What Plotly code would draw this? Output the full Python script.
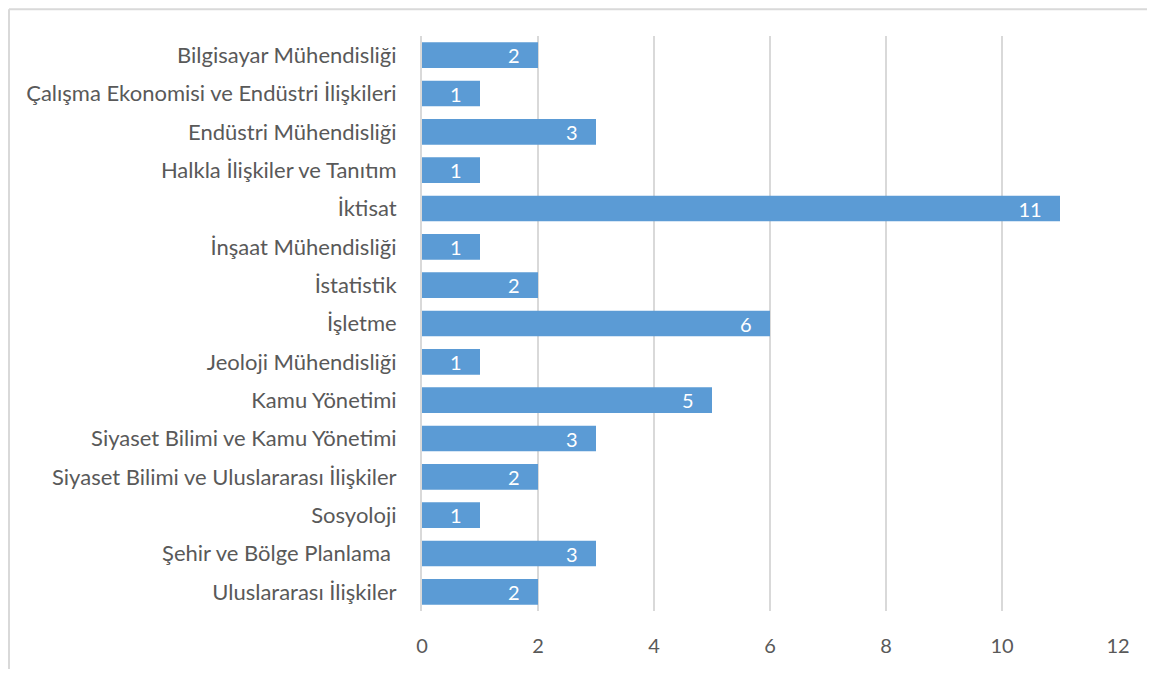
import plotly.graph_objects as go

categories = [
    "Bilgisayar Mühendisliği",
    "Çalışma Ekonomisi ve Endüstri İlişkileri",
    "Endüstri Mühendisliği",
    "Halkla İlişkiler ve Tanıtım",
    "İktisat",
    "İnşaat Mühendisliği",
    "İstatistik",
    "İşletme",
    "Jeoloji Mühendisliği",
    "Kamu Yönetimi",
    "Siyaset Bilimi ve Kamu Yönetimi",
    "Siyaset Bilimi ve Uluslararası İlişkiler",
    "Sosyoloji",
    "Şehir ve Bölge Planlama\u00a0",
    "Uluslararası İlişkiler",
]
values = [2, 1, 3, 1, 11, 1, 2, 6, 1, 5, 3, 2, 1, 3, 2]
x_ticks = [0, 2, 4, 6, 8, 10, 12]

# page has an 8px body margin; lay out in page pixels and compensate
OFF = 8
W, H = 1155 - 2 * OFF, 677 - 2 * OFF
PL, PR, PT, PB = 422, 1118, 36, 617          # plot area in page pixels
L = PL - OFF
T = PT - OFF
R = W - (PR - OFF)
B = H - (PB - OFF)
pw, ph = W - L - R, H - T - B

def px_x(p):
    return (p - PL) / pw

def px_y(p):
    return (PB - p) / ph

font_family = "Lato, 'Open Sans', sans-serif"
text_col = "#595959"
border_col = "#D9D9D9"

fig = go.Figure(go.Bar(
    x=values, y=categories, orientation="h",
    marker=dict(color="#5B9BD5", line=dict(width=0)),
    text=[str(v) for v in values],
    texttemplate="%{text}\u00a0\u00a0\u00a0",
    textposition="inside", insidetextanchor="end", textangle=0,
    textfont=dict(color="white", size=20, family=font_family),
    constraintext="none",
    hoverinfo="skip",
))

fig.update_layout(
    width=W, height=H,
    margin=dict(l=L, r=R, t=T, b=B, pad=0),
    paper_bgcolor="white", plot_bgcolor="white",
    bargap=0.33,
    showlegend=False,
    font=dict(family=font_family, color=text_col, size=20),
    xaxis=dict(
        range=[0, 12], tickvals=x_ticks, ticktext=[str(t) for t in x_ticks],
        showgrid=True, gridcolor=border_col, gridwidth=2,
        zeroline=False, showline=False, ticks="",
        ticklabelstandoff=21,
        tickfont=dict(size=20, color=text_col),
        fixedrange=True,
    ),
    yaxis=dict(
        autorange="reversed", showgrid=False, zeroline=False,
        showline=True, linecolor=border_col, linewidth=2,
        ticks="", ticklabelstandoff=19,
        tickfont=dict(size=22, color=text_col),
        fixedrange=True,
    ),
    shapes=[
        dict(type="line", xref="paper", yref="paper",
             x0=px_x(9), x1=px_x(1160), y0=px_y(9), y1=px_y(9),
             line=dict(color=border_col, width=2), layer="below"),
        dict(type="line", xref="paper", yref="paper",
             x0=px_x(9), x1=px_x(9), y0=px_y(9), y1=px_y(690),
             line=dict(color=border_col, width=2), layer="below"),
    ],
)

fig.write_html("out.html")
